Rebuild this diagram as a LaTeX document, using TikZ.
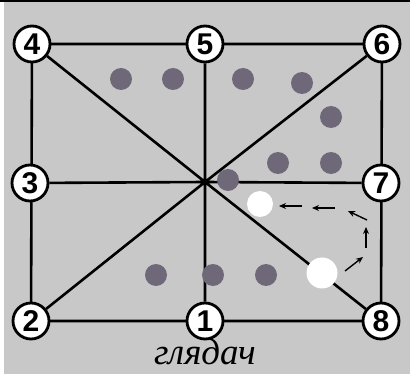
\documentclass[tikz,border=0pt]{standalone}
\usepackage{fontspec}
\setmainfont{Liberation Serif}
\newfontfamily\numfont{Liberation Sans}
\usepackage{tikz}
\usetikzlibrary{arrows.meta}
\definecolor{boardgray}{HTML}{C8C8C8}
\definecolor{stone}{HTML}{6E6878}
\pgfdeclarelayer{bg}
\pgfsetlayers{bg,main}

\begin{document}
\begin{tikzpicture}[
  x=1pt,y=-1pt,
  num/.style={circle,draw,line width=2.8pt,fill=white,minimum size=36pt,inner sep=0pt,font=\numfont\bfseries\fontsize{30}{30}\selectfont},
  line/.style={line width=2.6pt},
  stone/.style={circle,fill=stone,minimum size=22pt,inner sep=0pt},
  wstone/.style={circle,fill=white,inner sep=0pt},
  arr/.style={-{Stealth[length=7pt,width=6pt]},line width=1.4pt}
]
\useasboundingbox (0,0) rectangle (410,374);

% board points
\coordinate (c) at (205,182);
\node[num] (n4) at (32,44) {4};
\node[num] (n5) at (205,44) {5};
\node[num] (n6) at (382,44) {6};
\node[num] (n3) at (30,183) {3};
\node[num] (n7) at (381,183) {7};
\node[num] (n2) at (31,321) {2};
\node[num] (n1) at (205,321) {1};
\node[num] (n8) at (381,321) {8};

% background and lines
\begin{pgfonlayer}{bg}
\fill[boardgray] (0,0) rectangle (410,374);
\fill[white] (0,0) rectangle (4,374);
\fill[black] (0,0) rectangle (410,2);
\draw[line] (n4.center) -- (n6.center) -- (n8.center) -- (n2.center) -- cycle;
\draw[line] (n4) -- (c) -- (n8) (n2) -- (c) -- (n6)
  (n3) -- (c) -- (n7) (n5) -- (c) -- (n1);
\end{pgfonlayer}

% stones
\foreach \x/\y [count=\i] in {121/79,173/79,243/79,302/83,331/117,278/163,331/163,228/180,156/275,213/275,266/275}
  \node[stone] (s\i) at (\x,\y) {};
\node[wstone,minimum size=26pt] (w1) at (260,204) {};
\node[wstone,minimum size=31pt] (w2) at (322,273) {};

% moves
\coordinate (m1) at (345,271);
\coordinate (m2) at (363,257);
\coordinate (m3) at (366,248);
\coordinate (m4) at (366,227);
\coordinate (m5) at (367,220);
\coordinate (m6) at (348,211);
\coordinate (m7) at (335,208);
\coordinate (m8) at (312,208);
\coordinate (m9) at (302,206);
\coordinate (m10) at (279,206);
\draw[arr] (m1) -- (m2);
\draw[arr] (m3) -- (m4);
\draw[arr] (m5) -- (m6);
\draw[arr] (m7) -- (m8);
\draw[arr] (m9) -- (m10);

\node[anchor=base,inner sep=0pt,font=\itshape\fontsize{37}{37}\selectfont] (name) at (205,364) {глядач};
\end{tikzpicture}
\end{document}
